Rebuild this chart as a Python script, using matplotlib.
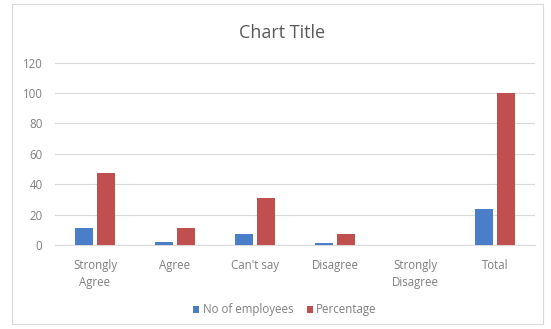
import matplotlib.pyplot as plt
import numpy as np
from matplotlib.patches import Rectangle

categories = ["Strongly\nAgree", "Agree", "Can't say", "Disagree", "Strongly\nDisagree", "Total"]
employees = [11, 2, 7, 1, 0, 24]
percentage = [47.5, 11.5, 31, 7.5, 0, 100]
yticks = [0, 20, 40, 60, 80, 100, 120]

plt.rcParams['font.family'] = ['Open Sans', 'DejaVu Sans']
txt = '#7f7f7f'

fig = plt.figure(figsize=(5.51, 3.29), dpi=100)
fig.patches.append(Rectangle((12/551, 5/329), 531/551, 320/329, transform=fig.transFigure,
                             fill=False, edgecolor='#d9d9d9', linewidth=0.8))
ax = fig.add_axes([55/551, 1 - 245/329, 480/551, (245 - 62.7)/329])
x = np.arange(len(categories))
w = 0.225
gap = 0.06
ax.bar(x - (w + gap) / 2, employees, w, color='#4a7ec8', label='No of employees', zorder=3)
ax.bar(x + (w + gap) / 2, percentage, w, color='#c0504d', label='Percentage', zorder=3)
ax.set_xlim(-0.5, len(categories) - 0.5)
ax.set_ylim(0, 120)
ax.set_yticks(yticks)
ax.yaxis.grid(True, color='#d9d9d9', linewidth=0.8, zorder=0)
for s in ['top', 'right', 'left']:
    ax.spines[s].set_visible(False)
ax.spines['bottom'].set_color('#d9d9d9')
ax.tick_params(axis='both', length=0, colors=txt, labelsize=8.3)
ax.tick_params(axis='y', pad=9)
ax.tick_params(axis='x', pad=10)
ax.set_xticks(x)
ax.set_xticklabels(categories, linespacing=1.45)
fig.text(282/551, 1 - 33/329, 'Chart Title', ha='center', va='center', fontsize=13, color='#595959')
fig.legend(loc='center', bbox_to_anchor=(285/551, 1 - 310/329), ncol=2, frameon=False,
           fontsize=8.3, labelcolor=txt, handlelength=0.5, handleheight=0.5, handletextpad=0.3,
           columnspacing=1.2)
fig.savefig('out.png', dpi=100)
